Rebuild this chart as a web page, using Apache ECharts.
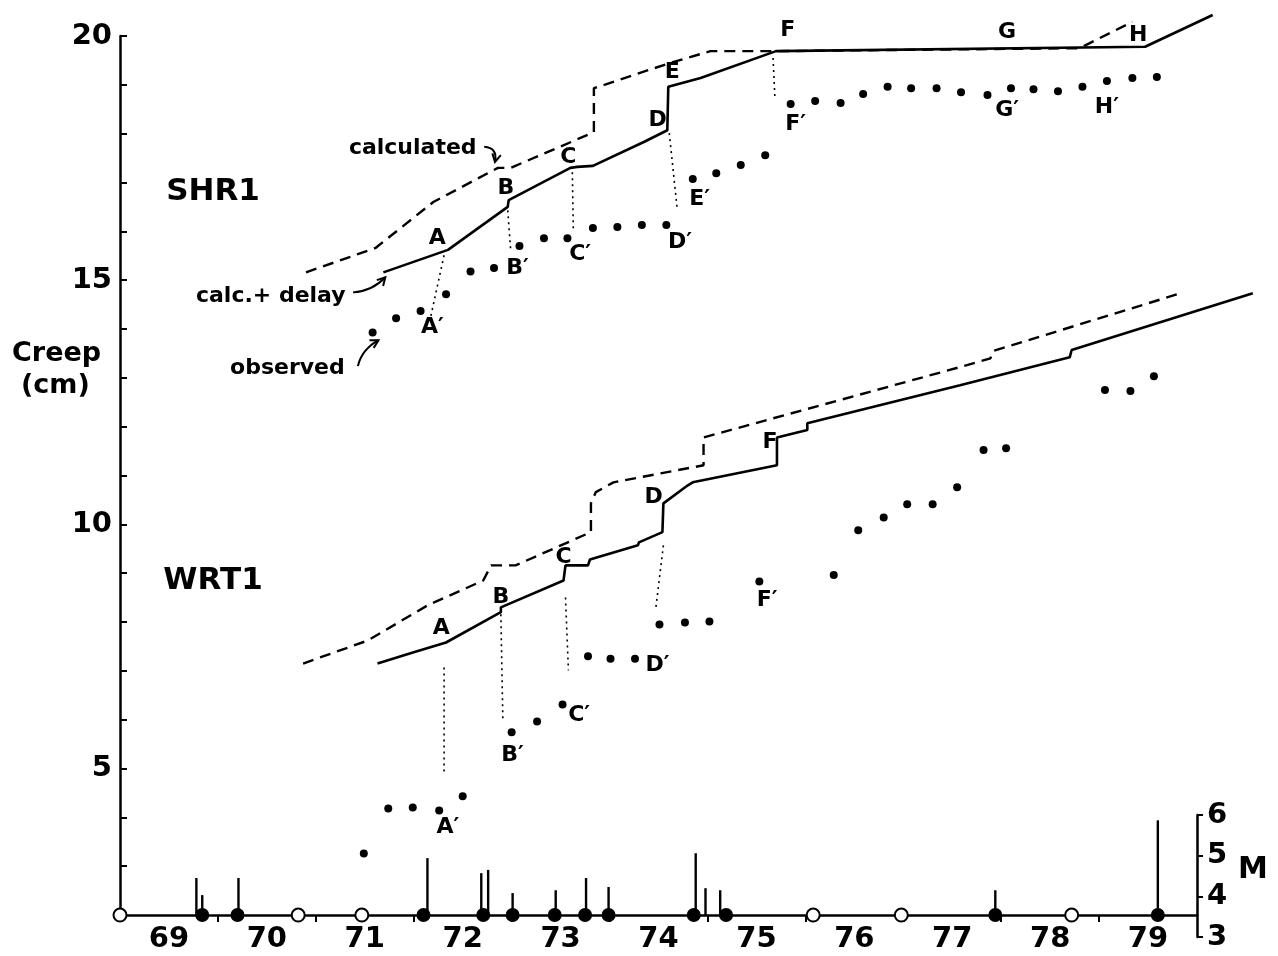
<!DOCTYPE html>
<html><head><meta charset="utf-8">
<script src="https://cdn.jsdelivr.net/npm/echarts@6/dist/echarts.min.js"></script>
<style>html,body{margin:0;padding:0;background:#fff}#c{width:1278px;height:956px}</style>
</head><body><div id="c"></div>
<script>
// ---------- data (year, creep cm) ----------
const shr1Calc = [[1970.90,15.16],[1971.61,15.66],[1972.20,16.60],[1972.86,17.30],[1972.99,17.30],[1973.84,18.03],[1973.84,18.93],[1974.62,19.45],[1975.03,19.69],[1975.70,19.69],[1978.80,19.75],[1979.34,20.29]];
const shr1Delay = [[1971.69,15.16],[1972.35,15.62],[1972.96,16.50],[1972.97,16.64],[1973.60,17.30],[1973.67,17.32],[1973.83,17.34],[1974.35,17.83],[1974.59,18.07],[1974.60,18.96],[1974.93,19.14],[1975.70,19.69],[1979.47,19.78],[1980.16,20.43]];
const shr1Obs = [[1971.58,13.93],[1971.82,14.22],[1972.07,14.37],[1972.33,14.71],[1972.58,15.18],[1972.82,15.25],[1973.08,15.70],[1973.33,15.86],[1973.57,15.86],[1973.83,16.07],[1974.08,16.09],[1974.33,16.13],[1974.58,16.13],[1974.85,17.07],[1975.09,17.19],[1975.34,17.36],[1975.59,17.56],[1975.85,18.61],[1976.10,18.67],[1976.36,18.63],[1976.59,18.81],[1976.84,18.96],[1977.08,18.93],[1977.34,18.93],[1977.59,18.85],[1977.86,18.79],[1978.10,18.93],[1978.33,18.91],[1978.58,18.87],[1978.83,18.96],[1979.08,19.08],[1979.34,19.14],[1979.59,19.16]];

const wrt1Calc = [[1970.87,7.15],[1971.53,7.62],[1972.14,8.34],[1972.71,8.85],[1972.79,9.16],[1973.04,9.16],[1973.81,9.84],[1973.81,10.43],[1973.86,10.66],[1974.04,10.86],[1974.96,11.21],[1974.96,11.78],[1977.58,13.22],[1977.89,13.40],[1977.92,13.55],[1979.83,14.73]];
const wrt1Delay = [[1971.63,7.15],[1972.00,7.38],[1972.33,7.58],[1972.89,8.20],[1972.89,8.30],[1973.53,8.85],[1973.55,9.16],[1973.78,9.16],[1973.80,9.28],[1974.29,9.57],[1974.30,9.63],[1974.54,9.84],[1974.55,10.43],[1974.80,10.80],[1974.85,10.86],[1975.71,11.21],[1975.71,11.78],[1976.02,11.93],[1976.02,12.07],[1977.58,12.85],[1978.70,13.42],[1978.72,13.57],[1980.57,14.73]];
const wrt1Obs = [[1971.49,3.26],[1971.74,4.18],[1971.99,4.20],[1972.26,4.14],[1972.50,4.43],[1973.00,5.74],[1973.26,5.96],[1973.52,6.31],[1973.78,7.30],[1974.01,7.25],[1974.26,7.25],[1974.51,7.95],[1974.77,7.99],[1975.02,8.01],[1975.53,8.83],[1976.29,8.96],[1976.54,9.88],[1976.80,10.14],[1977.04,10.41],[1977.30,10.41],[1977.55,10.76],[1977.82,11.52],[1978.05,11.56],[1979.06,12.75],[1979.32,12.73],[1979.56,13.03]];

// dotted links between calculated events and observed response
const shr1Links = [[[1972.31,15.51],[1972.17,14.22]],[[1972.96,16.43],[1972.99,15.62]],[[1973.62,17.21],[1973.63,16.03]],[[1974.61,18.01],[1974.69,16.48]],[[1975.67,19.55],[1975.69,18.69]]];
const wrt1Links = [[[1972.31,7.07],[1972.31,4.86]],[[1972.89,8.16],[1972.91,6.03]],[[1973.55,8.50],[1973.58,7.01]],[[1974.55,9.57],[1974.47,8.24]]];

// earthquakes (year, magnitude M)
const quakeStems = [[1969.78,4.45],[1969.84,4.03],[1970.21,4.45],[1972.14,4.94],[1972.69,4.57],[1972.76,4.65],[1973.01,4.08],[1973.45,4.15],[1973.76,4.45],[1973.99,4.23],[1974.88,5.06],[1974.98,4.20],[1975.13,4.15],[1977.94,4.15],[1979.60,5.87]];
const filledQuakes = [1969.84,1970.20,1972.10,1972.71,1973.01,1973.44,1973.75,1973.99,1974.86,1975.19,1977.94,1979.60];
const openQuakes = [1969.0,1970.82,1971.47,1976.08,1976.98,1978.72];
const BASE_M = 3.54;

// ticks / labels
const yearTicks = [1970,1971,1972,1973,1974,1975,1976,1977,1978,1979];
const yearLabelPos = [1969.5,1970.5,1971.5,1972.5,1973.5,1974.5,1975.5,1976.5,1977.5,1978.5,1979.5];

// text annotations [text, year, creep]
const shr1Letters = [['A',1972.24,15.86],['B',1972.94,16.89],['C',1973.58,17.52],['D',1974.49,18.28],['E',1974.64,19.26],['F',1975.82,20.12],['G',1978.06,20.08],['H',1979.40,20.02],['A′',1972.19,14.04],['B′',1973.06,15.25],['C′',1973.70,15.53],['D′',1974.72,15.78],['E′',1974.92,16.66],['F′',1975.90,18.20],['G′',1978.06,18.48],['H′',1979.08,18.55]];
const wrt1Letters = [['A',1972.28,7.87],['B',1972.89,8.50],['C',1973.53,9.32],['D',1974.45,10.55],['F',1975.64,11.68],['A′',1972.35,3.79],['B′',1973.01,5.27],['C′',1973.69,6.09],['D′',1974.49,7.11],['F′',1975.61,8.44]];
const notes = [['calculated',1971.99,17.71],['calc.+ delay',1970.54,14.67],['observed',1970.71,13.20]];
const stations = [['SHR1',1969.95,16.80],['WRT1',1969.95,8.85]];
const arrows = [
  [[1972.72,17.73],[1972.86,17.71],[1972.83,17.42]],
  [[1971.38,14.75],[1971.58,14.78],[1971.71,15.06]],
  [[1971.43,13.24],[1971.47,13.58],[1971.64,13.77]]
];

// ---------- chart ----------
const FONT = 'DejaVu Sans';
const chart = echarts.init(document.getElementById('c'), null, {renderer:'canvas'});
const W = 1278, GRID_L = 120, GRID_R = 81, WIDE_R = 18;
const X_MIN = 1969, X_MAX = 1980;
// wide overlay grid with the same pixels-per-year so line ends can run past the right axis
const pxPerYear = (W - GRID_L - GRID_R) / (X_MAX - X_MIN);
const X_MAX_WIDE = X_MIN + (W - GRID_L - WIDE_R) / pxPerYear;

function lineSeries(data, dashed, w){
  return {type:'line', data, xAxisIndex:2, yAxisIndex:2, symbol:'none', clip:false, silent:true,
    lineStyle:{color:'#000', width:w, type: dashed}, z:3, animation:false};
}
function dotSeries(data){
  return {type:'scatter', data, xAxisIndex:2, yAxisIndex:2, symbol:'circle', symbolSize:8, clip:false,
    itemStyle:{color:'#000', opacity:1}, z:4, animation:false};
}
function textSeries(arr, size, weight){
  return {type:'scatter', xAxisIndex:2, yAxisIndex:2, symbolSize:0, clip:false, silent:true, animation:false,
    itemStyle:{opacity:1},
    data: arr.map(a => ({name:a[0], value:[a[1],a[2]]})),
    label:{show:true, position:'inside', formatter:'{b}', color:'#000', opacity:1, fontFamily:FONT, fontSize:size, fontWeight:weight}, z:6};
}

const series = [
  lineSeries(shr1Calc, [11,7], 2.4),
  lineSeries(shr1Delay, 'solid', 2.6),
  dotSeries(shr1Obs),
  lineSeries(wrt1Calc, [11,7], 2.4),
  lineSeries(wrt1Delay, 'solid', 2.6),
  dotSeries(wrt1Obs),
];
shr1Links.concat(wrt1Links).forEach(l => series.push(lineSeries(l, [2,4], 1.6)));
series.push(textSeries(shr1Letters, 22, 'bold'));
series.push(textSeries(wrt1Letters, 22, 'bold'));
series.push(textSeries(notes, 22, 'bold'));
series.push(textSeries(stations, 31, 'bold'));

// quake stems (grid 1, magnitude scale)
series.push({type:'custom', xAxisIndex:1, yAxisIndex:1, data:quakeStems, clip:false, silent:true, animation:false, z:3,
  renderItem:(params, api) => {
    const x = api.value(0), m = api.value(1);
    const p0 = api.coord([x, BASE_M]), p1 = api.coord([x, m]);
    return {type:'line', shape:{x1:p0[0], y1:p0[1], x2:p1[0], y2:p1[1]}, style:{stroke:'#000', lineWidth:2.4}};
  }});
series.push({type:'scatter', xAxisIndex:1, yAxisIndex:1, data:filledQuakes.map(v => [v, BASE_M]), symbol:'circle', symbolSize:14,
  clip:false, itemStyle:{color:'#000', opacity:1}, z:5, animation:false});
series.push({type:'scatter', xAxisIndex:1, yAxisIndex:1, data:openQuakes.map(v => [v, BASE_M]), symbol:'circle', symbolSize:13,
  clip:false, itemStyle:{color:'#fff', borderColor:'#000', borderWidth:2, opacity:1}, z:5, animation:false});

const axisTxt = {color:'#000', fontFamily:FONT, fontSize:29, fontWeight:'bold'};

chart.setOption({
  backgroundColor:'#fff',
  animation:false,
  grid:[
    {left:GRID_L, right:GRID_R, top:36, bottom:41},
    {left:GRID_L, right:GRID_R, top:815, bottom:19},
    {left:GRID_L, right:WIDE_R, top:36, bottom:41}
  ],
  xAxis:[
    {type:'value', gridIndex:0, min:X_MIN, max:X_MAX, interval:1,
      axisLine:{onZero:false, lineStyle:{color:'#000', width:2.5}},
      axisTick:{show:true, inside:false, length:7, lineStyle:{color:'#000', width:2}, customValues:yearTicks},
      axisLabel:Object.assign({show:true, margin:10, customValues:yearLabelPos,
        formatter:v => String(Math.floor(v) % 100)}, axisTxt),
      splitLine:{show:false}},
    {type:'value', gridIndex:1, min:X_MIN, max:X_MAX, show:false},
    {type:'value', gridIndex:2, min:X_MIN, max:X_MAX_WIDE, show:false}
  ],
  yAxis:[
    {type:'value', gridIndex:0, min:2, max:20, interval:1,
      axisLine:{show:true, onZero:false, lineStyle:{color:'#000', width:2.5}},
      axisTick:{show:true, inside:true, length:7, lineStyle:{color:'#000', width:2}},
      axisLabel:Object.assign({margin:8, formatter:v => (v % 5 === 0 && v > 2) ? String(v) : ''}, axisTxt),
      splitLine:{show:false}},
    {type:'value', gridIndex:1, position:'right', min:3, max:6, interval:1,
      axisLine:{show:true, lineStyle:{color:'#000', width:2.5}},
      axisTick:{show:true, inside:false, length:6, lineStyle:{color:'#000', width:2}},
      axisLabel:Object.assign({margin:10}, axisTxt),
      splitLine:{show:false}},
    {type:'value', gridIndex:2, min:2, max:20, show:false}
  ],
  series
});

// annotations: axis titles and curved arrows (arrow anchors converted through the chart's own scales)
const graphics = [
  {type:'text', left:12, top:340, style:{text:'Creep', fill:'#000', font:'bold 27px "DejaVu Sans"'}},
  {type:'text', left:21, top:372, style:{text:'(cm)', fill:'#000', font:'bold 27px "DejaVu Sans"'}},
  {type:'text', left:1238, top:855, style:{text:'M', fill:'#000', font:'bold 30px "DejaVu Sans"'}}
];
arrows.forEach(a => {
  const p = a.map(d => chart.convertToPixel({xAxisIndex:0, yAxisIndex:0}, d));
  graphics.push({type:'bezierCurve', shape:{x1:p[0][0], y1:p[0][1], cpx1:p[1][0], cpy1:p[1][1], x2:p[2][0], y2:p[2][1]},
    style:{stroke:'#000', lineWidth:2, fill:null}, z:10});
  const dx = p[2][0]-p[1][0], dy = p[2][1]-p[1][1], L = Math.hypot(dx,dy) || 1;
  const ux = dx/L, uy = dy/L, h = 9, s = 0.5;
  const b1 = [p[2][0] - h*(ux*Math.cos(s) - uy*Math.sin(s)), p[2][1] - h*(uy*Math.cos(s) + ux*Math.sin(s))];
  const b2 = [p[2][0] - h*(ux*Math.cos(-s) - uy*Math.sin(-s)), p[2][1] - h*(uy*Math.cos(-s) + ux*Math.sin(-s))];
  graphics.push({type:'polyline', shape:{points:[b1, p[2], b2]}, style:{stroke:'#000', lineWidth:2, fill:null}, z:10});
});
chart.setOption({graphic: graphics});
</script>
</body></html>
